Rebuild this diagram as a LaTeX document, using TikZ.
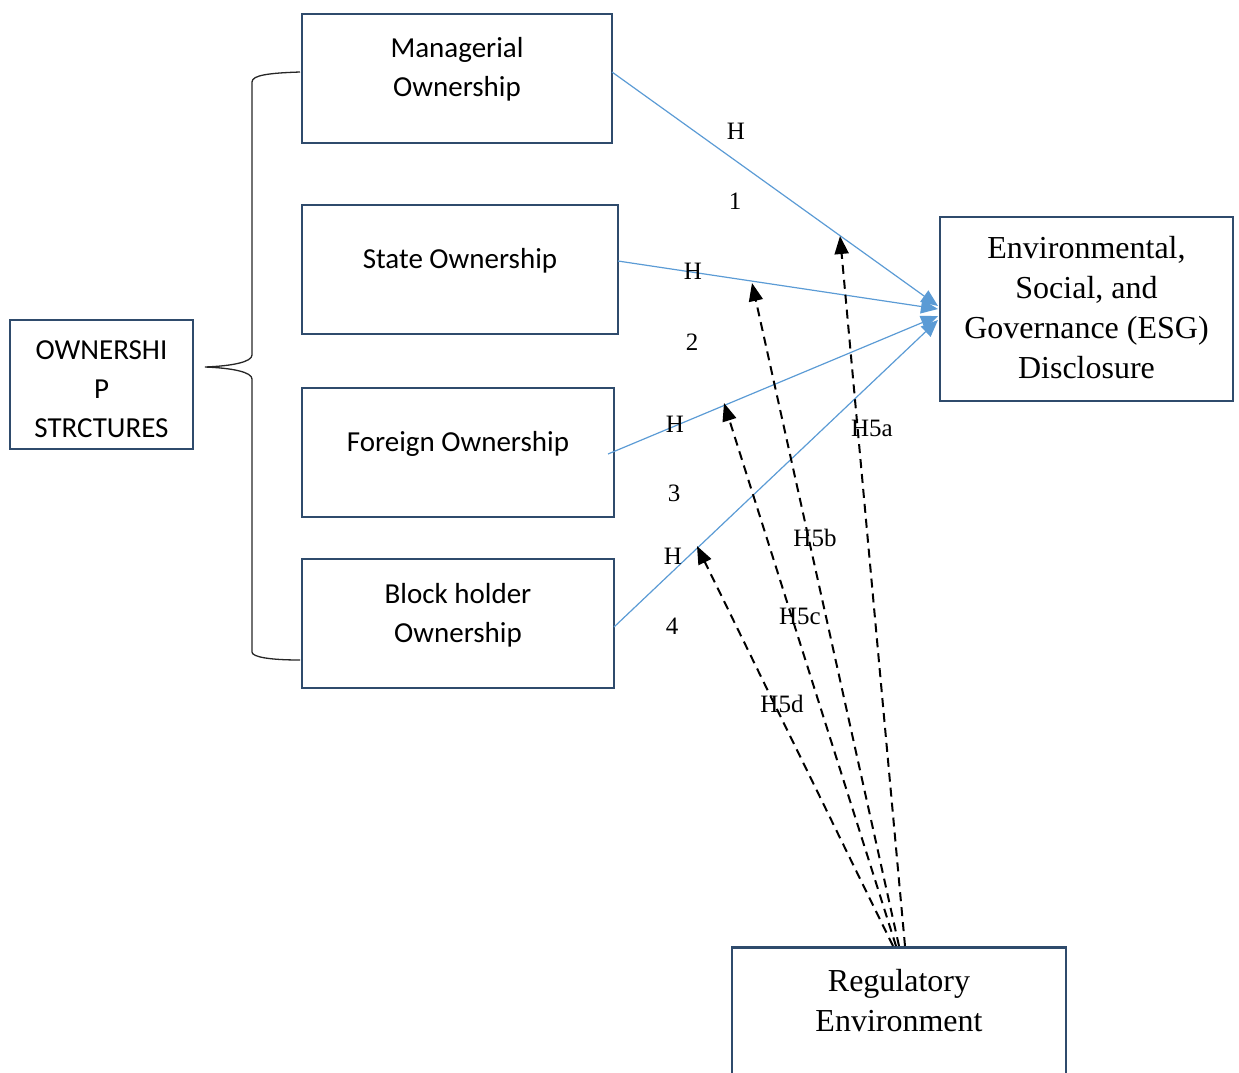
\documentclass[tikz,border=0pt]{standalone}
\usepackage{fontspec}
\setmainfont{Liberation Serif}
\newfontfamily\carlito{Carlito}
\usetikzlibrary{arrows.meta}
\definecolor{boxc}{HTML}{2F4B6C}
\definecolor{arrc}{HTML}{5B9BD5}
\begin{document}
\begin{tikzpicture}[x=1pt,y=-1pt,
  box/.style={draw=boxc,line width=2.8pt,inner sep=0pt},
  ctext/.style={font=\carlito\fontsize{29}{39}\selectfont,align=center,inner sep=0pt},
  ttext/.style={font=\fontsize{32}{40}\selectfont,align=center,inner sep=0pt},
  lab/.style={font=\fontsize{25}{28}\selectfont,inner sep=0pt},
  blue/.style={draw=arrc,line width=1.2pt,-{Triangle[length=17pt,width=14pt]}},
  reg/.style={draw=black,line width=2pt,dash pattern=on 9pt off 6pt,-{Triangle[length=18pt,width=14pt]}}]
\useasboundingbox (0,0) rectangle (1239,1072);
% boxes
\node[box,minimum width=310,minimum height=129] (man) at (457,78.5) {};
\node[box,minimum width=316,minimum height=129] (sta) at (460,269.5) {};
\node[box,minimum width=312,minimum height=129] (for) at (458,452.5) {};
\node[box,minimum width=312,minimum height=129] (blk) at (458,623.5) {};
\node[box,minimum width=183,minimum height=129] (own) at (101.5,384.5) {};
\node[box,minimum width=293,minimum height=184] (esg) at (1086.5,309) {};
\node[box,minimum width=334,minimum height=140,anchor=north] (rgl) at (899,946) {};
% texts
\node[ctext] (tman) at (457,69) {Managerial\\Ownership};
\node[ctext] (tsta) at (460,261) {State Ownership};
\node[ctext] (tfor) at (458,444) {Foreign Ownership};
\node[ctext] (tblk) at (458,615) {Block holder\\Ownership};
\node[ctext] (town) at (101.5,389.5) {OWNERSHI\\P\\STRCTURES};
\node[ttext] (tesg) at (1086.5,308) {Environmental,\\Social, and\\Governance (ESG)\\Disclosure};
\node[ttext] (trgl) at (899,1000.5) {Regulatory\\Environment};
% brace
\draw[line width=1.3pt,black!85] (300,72) .. controls (270,73) and (252,75) .. (252,82) -- (252,355)
  .. controls (252,362) and (232,366) .. (205,367) .. controls (232,368) and (252,372) .. (252,379)
  -- (252,652) .. controls (252,657) and (270,660) .. (300,660);
% blue connectors
\coordinate (m1) at (612,72);
\coordinate (s1) at (618,261);
\coordinate (f1) at (608,454);
\coordinate (b1) at (614,627);
\coordinate (e1) at (938,306);
\coordinate (e2) at (938,309);
\coordinate (e3) at (938,316);
\coordinate (e4) at (938,320);
\draw[blue] (m1) -- (e1);
\draw[blue] (s1) -- (e2);
\draw[blue] (f1) -- (e3);
\draw[blue] (b1) -- (e4);
% H labels
\node[lab] (h1a) at (736,131) {H};
\node[lab] (h1b) at (735,201) {1};
\node[lab] (h2a) at (693,271) {H};
\node[lab] (h2b) at (692,342) {2};
\node[lab] (h3a) at (675,424) {H};
\node[lab] (h3b) at (674,493) {3};
\node[lab] (h4a) at (673,556) {H};
\node[lab] (h4b) at (672,626) {4};
% dashed connectors
\coordinate (ta) at (840,236);
\coordinate (tb) at (752,283);
\coordinate (tc) at (724,403);
\coordinate (td) at (697,546);
\draw[reg] ([xshift=6pt]rgl.north) -- (ta);
\draw[reg] ([xshift=0pt]rgl.north) -- (tb);
\draw[reg] ([xshift=-3pt]rgl.north) -- (tc);
\draw[reg] ([xshift=-6pt]rgl.north) -- (td);
\node[lab] (l5a) at (872,428) {H5a};
\node[lab] (l5b) at (815,538) {H5b};
\node[lab] (l5c) at (800,616) {H5c};
\node[lab] (l5d) at (782,704) {H5d};
\end{tikzpicture}
\end{document}
